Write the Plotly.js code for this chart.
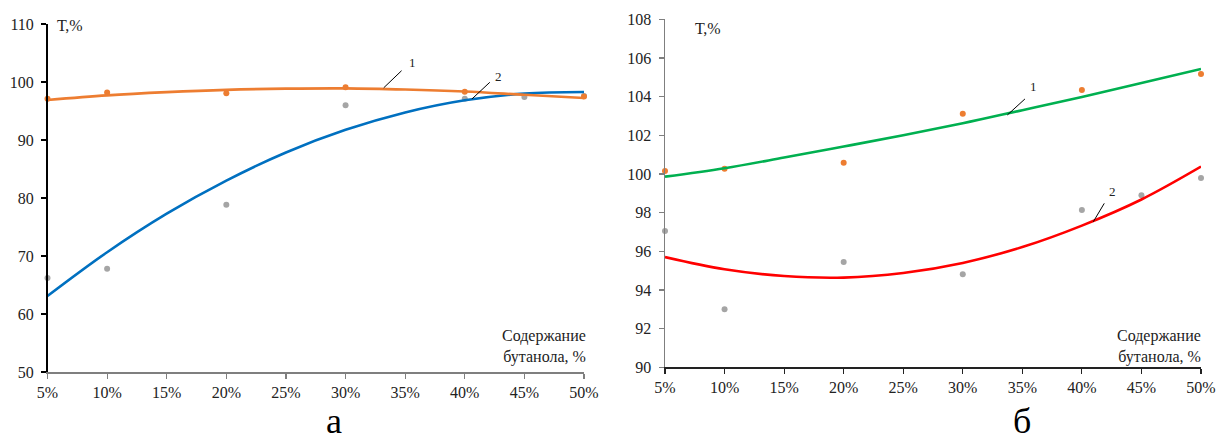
<!DOCTYPE html>
<html>
<head>
<meta charset="utf-8">
<script src="https://cdn.plot.ly/plotly-3.0.1.min.js"></script>
<style>
  html, body { margin: 0; padding: 0; background: #fff; }
  #chart { width: 1216px; height: 442px; }
</style>
</head>
<body>
<div id="chart"></div>
<script>
// Butanol content, % (x positions of points and ticks)
const xPoints = [5, 10, 20, 30, 40, 50];
const xPoints2 = [5, 10, 20, 30, 40, 45, 50];
const xCurve = [5, 10, 15, 20, 25, 30, 35, 40, 45, 50];
const xTicks = [5, 10, 15, 20, 25, 30, 35, 40, 45, 50];

// Panel а: measured T,% and trend curves
const a1Points = [97.1, 98.2, 98.05, 99.1, 98.3, 97.5];
const a1Curve = [96.9, 97.7, 98.25, 98.65, 98.85, 98.9, 98.7, 98.35, 97.8, 97.25];
const a2Points = [66.2, 67.8, 78.85, 96.0, 97.1, 97.4, 97.6];
const a2Curve = [63.1, 70.65, 77.3, 83.0, 87.85, 91.75, 94.75, 96.85, 98.0, 98.28];

// Panel б: measured T,% and trend curves
const b1Points = [100.15, 100.27, 100.58, 103.12, 104.34, 105.17];
const b1Curve = [99.86, 100.3, 100.85, 101.42, 102.0, 102.62, 103.3, 103.98, 104.7, 105.43];
const b2Points = [97.05, 93.0, 95.45, 94.81, 98.13, 98.9, 99.79];
const b2Curve = [95.7, 95.07, 94.72, 94.64, 94.88, 95.4, 96.22, 97.33, 98.68, 100.38];

const FONT = '"Liberation Serif", "Times New Roman", serif';
const ORANGE = '#ED7D31', GRAY = '#A5A5A5', BLUE = '#0070C0', GREEN = '#00B050', RED = '#FF0000';
const AXGRAY = '#7f7f7f';

function pts(x, y, color, xa, ya) {
  return { x, y, xaxis: xa, yaxis: ya, type: 'scatter', mode: 'markers',
    marker: { color, size: 6 }, cliponaxis: false, showlegend: false, hoverinfo: 'skip' };
}
function curve(x, y, color, xa, ya) {
  return { x, y, xaxis: xa, yaxis: ya, type: 'scatter', mode: 'lines',
    line: { color, width: 2.6, shape: 'spline', smoothing: 1 }, cliponaxis: false,
    showlegend: false, hoverinfo: 'skip' };
}

const data = [
  pts(xPoints2, a2Points, GRAY, 'x', 'y'),
  pts(xPoints, a1Points, ORANGE, 'x', 'y'),
  curve(xCurve, a2Curve, BLUE, 'x', 'y'),
  curve(xCurve, a1Curve, ORANGE, 'x', 'y'),
  pts(xPoints2, b2Points, GRAY, 'x2', 'y2'),
  pts(xPoints, b1Points, ORANGE, 'x2', 'y2'),
  curve(xCurve, b2Curve, RED, 'x2', 'y2'),
  curve(xCurve, b1Curve, GREEN, 'x2', 'y2')
];

function xAxis(domain, anchor, color) {
  return { domain, anchor, range: [5, 50], tickvals: xTicks, ticktext: xTicks.map(v => v + '%'),
    showgrid: false, zeroline: false, showline: true, linecolor: color, linewidth: 1.5,
    ticks: 'outside', ticklen: 5, tickcolor: color, tickwidth: 1.2,
    tickfont: { family: FONT, size: 16, color: '#222' }, fixedrange: true };
}
function yAxis(domain, anchor, range, dtick, color) {
  return { domain, anchor, range, dtick, tick0: range[0],
    showgrid: false, zeroline: false, showline: true, linecolor: color, linewidth: 1.5,
    ticks: 'outside', ticklen: 5, tickcolor: color, tickwidth: 1.2, ticklabelstandoff: 4,
    tickfont: { family: FONT, size: 16, color: '#222' }, fixedrange: true };
}

const W = 1216, H = 442;
const px = v => v / W, py = v => (H - v) / H;

const textFont = { family: FONT, size: 16, color: '#222' };
const numFont = { family: FONT, size: 13, color: '#222' };
const letterFont = { family: FONT, size: 36, color: '#000' };

const annotations = [
  // axis captions
  { xref: 'paper', yref: 'paper', x: px(55), y: py(25), xanchor: 'left', yanchor: 'middle',
    text: 'Т,%', showarrow: false, font: textFont },
  { xref: 'paper', yref: 'paper', x: px(693), y: py(29), xanchor: 'left', yanchor: 'middle',
    text: 'Т,%', showarrow: false, font: textFont },
  { xref: 'paper', yref: 'paper', x: px(588), y: py(346), xanchor: 'right', yanchor: 'middle',
    text: 'Содержание<br>бутанола, %', align: 'right', showarrow: false, font: textFont },
  { xref: 'paper', yref: 'paper', x: px(1203), y: py(346), xanchor: 'right', yanchor: 'middle',
    text: 'Содержание<br>бутанола, %', align: 'right', showarrow: false, font: textFont },
  // panel letters
  { xref: 'paper', yref: 'paper', x: px(334), y: 0, xanchor: 'center', yanchor: 'bottom',
    text: 'а', showarrow: false, font: letterFont, borderpad: 0 },
  { xref: 'paper', yref: 'paper', x: px(1021.5), y: 0, xanchor: 'center', yanchor: 'bottom',
    text: 'б', showarrow: false, font: letterFont, borderpad: 0 },
  // curve numbers
  { xref: 'x', yref: 'y', x: 35.6, y: 103.3, text: '1', showarrow: false, font: numFont },
  { xref: 'x', yref: 'y', x: 42.8, y: 101.0, text: '2', showarrow: false, font: numFont },
  { xref: 'x2', yref: 'y2', x: 35.9, y: 104.55, text: '1', showarrow: false, font: numFont },
  { xref: 'x2', yref: 'y2', x: 42.59, y: 99.08, text: '2', showarrow: false, font: numFont }
];

const leader = { type: 'line', line: { color: '#000', width: 1 } };
const shapes = [
  Object.assign({}, leader, { xref: 'x', yref: 'y', x0: 33.2, y0: 99.0, x1: 34.7, y1: 101.95 }),
  Object.assign({}, leader, { xref: 'x', yref: 'y', x0: 40.6, y0: 97.07, x1: 42.1, y1: 99.95 }),
  Object.assign({}, leader, { xref: 'x2', yref: 'y2', x0: 33.74, y0: 103.05, x1: 35.22, y1: 103.88 }),
  Object.assign({}, leader, { xref: 'x2', yref: 'y2', x0: 40.96, y0: 97.53, x1: 41.88, y1: 98.48 })
];

const layout = {
  width: W, height: H,
  margin: { l: 0, r: 0, t: 0, b: 0 },
  paper_bgcolor: '#fff', plot_bgcolor: 'rgba(0,0,0,0)',
  showlegend: false,
  xaxis: xAxis([px(47.5), px(584)], 'y', AXGRAY),
  yaxis: yAxis([py(372), py(24)], 'x', [50, 110], 10, '#000'),
  xaxis2: xAxis([px(665), px(1201)], 'y2', '#222'),
  yaxis2: yAxis([py(367.3), py(19.3)], 'x2', [90, 108], 2, AXGRAY),
  annotations, shapes
};

Plotly.newPlot('chart', data, layout, { staticPlot: true, displayModeBar: false });
</script>
</body>
</html>
